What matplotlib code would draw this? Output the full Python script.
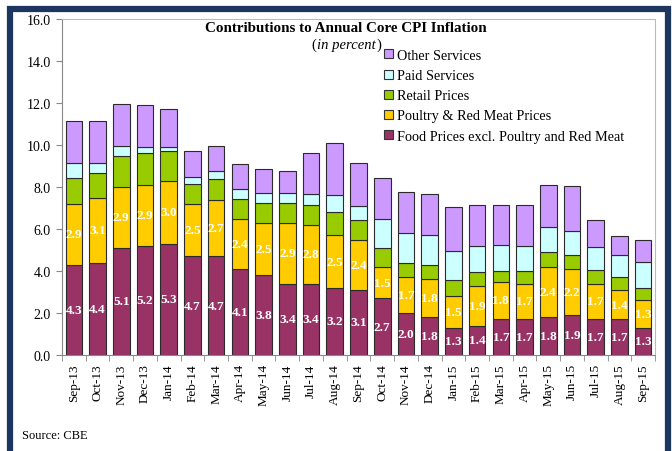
import matplotlib
matplotlib.use('Agg')
import matplotlib.pyplot as plt
import numpy as np
from matplotlib.patches import Rectangle, Patch
from matplotlib.ticker import MultipleLocator, FormatStrFormatter

plt.rcParams['font.family'] = ['Liberation Serif', 'DejaVu Serif']

months = ['Sep-13', 'Oct-13', 'Nov-13', 'Dec-13', 'Jan-14', 'Feb-14', 'Mar-14',
          'Apr-14', 'May-14', 'Jun-14', 'Jul-14', 'Aug-14', 'Sep-14', 'Oct-14',
          'Nov-14', 'Dec-14', 'Jan-15', 'Feb-15', 'Mar-15', 'Apr-15', 'May-15',
          'Jun-15', 'Jul-15', 'Aug-15', 'Sep-15']

# contributions, bottom to top of each stack
food = [4.3, 4.4, 5.1, 5.2, 5.3, 4.7, 4.7, 4.1, 3.8, 3.4, 3.4, 3.2, 3.1,
        2.7, 2.0, 1.8, 1.3, 1.4, 1.7, 1.7, 1.8, 1.9, 1.7, 1.7, 1.3]
poultry = [2.9, 3.1, 2.9, 2.9, 3.0, 2.5, 2.7, 2.4, 2.5, 2.9, 2.8, 2.5, 2.4,
           1.5, 1.7, 1.8, 1.5, 1.9, 1.8, 1.7, 2.4, 2.2, 1.7, 1.4, 1.3]
retail = [1.25, 1.15, 1.5, 1.5, 1.4, 0.95, 1.0, 0.95, 0.95, 0.95, 0.95, 1.1, 0.95,
          0.9, 0.7, 0.7, 0.75, 0.65, 0.5, 0.6, 0.7, 0.65, 0.65, 0.6, 0.6]
paid = [0.7, 0.5, 0.45, 0.3, 0.2, 0.35, 0.35, 0.45, 0.45, 0.45, 0.5, 0.8, 0.65,
        1.4, 1.4, 1.4, 1.4, 1.25, 1.25, 1.2, 1.2, 1.15, 1.1, 1.05, 1.25]
other = [2.0, 2.0, 2.0, 2.0, 1.8, 1.2, 1.2, 1.2, 1.15, 1.05, 1.95, 2.5, 2.05,
         1.95, 1.95, 1.95, 2.1, 1.95, 1.9, 1.95, 2.0, 2.15, 1.3, 0.9, 1.05]

names = ['Food Prices excl. Poultry and Red Meat', 'Poultry & Red Meat Prices',
         'Retail Prices', 'Paid Services', 'Other Services']
colors = ['#993366', '#FFCC00', '#99CC00', '#CCFFFF', '#CC99FF']

fig = plt.figure(figsize=(6.72, 4.52), dpi=100)
ax = fig.add_axes([62/672, 1-356/452, (655-62)/672, (356-20)/452])

x = np.arange(len(months))
series = [food, poultry, retail, paid, other]
bottom = np.zeros(len(months))
for vals, col in zip(series, colors):
    ax.bar(x, vals, 0.7, bottom=bottom, color=col, edgecolor='#2b2b2b', linewidth=0.8)
    bottom += np.array(vals)

# value labels on the two food segments
for i in range(len(months)):
    ax.text(x[i], food[i]/2, '%.1f' % food[i], ha='center', va='center',
            color='white', fontsize=9.5, fontweight='bold')
    ax.text(x[i], food[i] + poultry[i]/2, '%.1f' % poultry[i], ha='center', va='center',
            color='white', fontsize=9.5, fontweight='bold')

ax.set_xlim(-0.5, len(months) - 0.5)
ax.set_ylim(0, 16)
ax.yaxis.set_major_locator(MultipleLocator(2))
ax.yaxis.set_major_formatter(FormatStrFormatter('%.1f'))
ax.tick_params(axis='y', direction='out', length=4, color='#888888', labelsize=10, pad=4)
ax.set_xticks(x)
ax.set_xticklabels(months, rotation=90, fontsize=9.5)
ax.set_xticks(np.arange(-0.5, len(months)), minor=True)
ax.tick_params(axis='x', which='major', length=0, pad=6)
ax.tick_params(axis='x', which='minor', direction='out', length=4, color='#888888')
for s in ax.spines.values():
    s.set_color('#bbbbbb')
ax.spines['left'].set_color('#888888')
ax.spines['bottom'].set_color('#888888')

fig.text(346/672, 1-28/452, 'Contributions to Annual Core CPI Inflation', ha='center',
         va='center', fontsize=10.8, fontweight='bold')

# subtitle: "(in percent)" with only the words in italics
sub = fig.text(346/672, 1-45/452, 'in percent', ha='center', va='center',
               fontsize=10.5, style='italic')
r = fig.canvas.get_renderer()
bb = sub.get_window_extent(r)
fig.text(bb.x0/672 - 0.001, 1-45/452, '(', ha='right', va='center', fontsize=10.5)
fig.text(bb.x1/672 + 0.001, 1-45/452, ')', ha='left', va='center', fontsize=10.5)

handles = [Patch(facecolor=c, edgecolor='#333333', linewidth=0.8) for c in colors][::-1]
ax.legend(handles, names[::-1], loc='upper left', bbox_to_anchor=(384/672, 1-50/452),
          bbox_transform=fig.transFigure, frameon=False, fontsize=10.3, handlelength=0.6,
          handleheight=0.6, handletextpad=0.3, labelspacing=0.5, borderpad=0, borderaxespad=0)

fig.text(22/672, 1-436/452, 'Source: CBE', ha='left', va='center', fontsize=9)

# navy frame round the chart
fig.patches.append(Rectangle((10/672, -0.05), 658/672, 1 - 9.5/452 + 0.05,
                             transform=fig.transFigure, fill=False,
                             edgecolor='#1c3660', linewidth=4.5, zorder=10))

fig.savefig('out.png', dpi=100)
